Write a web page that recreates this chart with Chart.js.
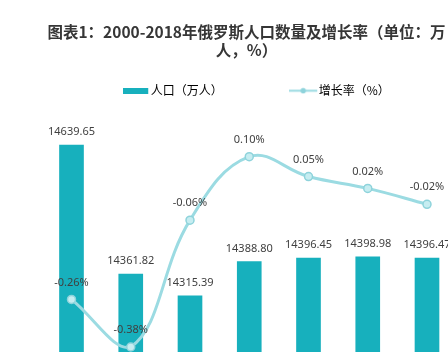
<!DOCTYPE html>
<html><head><meta charset="utf-8">
<script src="https://cdn.jsdelivr.net/npm/chart.js@4"></script>
<style>html,body{margin:0;padding:0;background:#fff;overflow:hidden}canvas{display:block}</style>
</head><body>
<canvas id="c" width="448" height="352"></canvas>
<script>
// ---- data ----
const categories = ['2000', '2005', '2009', '2012', '2013', '2014', '2015'];
const seriesNames = ['人口（万人）', '增长率（%）'];
const population = [14639.65, 14361.82, 14315.39, 14388.80, 14396.45, 14398.98, 14396.47];
const growthRate = [-0.26, -0.38, -0.06, 0.10, 0.05, 0.02, -0.02];
const titleLines = ['图表1：2000-2018年俄罗斯人口数量及增长率（单位：万', '人，%）'];

// ---- styles ----
const BAR_COLOR = '#17B0BD';
const LINE_COLOR = '#9BDBE2';
const LABEL_COLOR = '#404040';

function swatch(w, h, draw) {
  const c = document.createElement('canvas');
  c.width = w; c.height = h;
  draw(c.getContext('2d'), w, h);
  return c;
}
const barSwatch = swatch(39, 6, (g, w, h) => { g.fillStyle = BAR_COLOR; g.fillRect(0, 0, 25, h); });
const lineSwatch = swatch(43, 7, (g, w, h) => {
  g.strokeStyle = LINE_COLOR; g.lineWidth = 2;
  g.beginPath(); g.moveTo(0, h / 2); g.lineTo(28, h / 2); g.stroke();
  g.fillStyle = '#8ed3db';
  g.beginPath(); g.arc(14, h / 2, 2.7, 0, Math.PI * 2); g.fill();
});
const blankSwatch = swatch(1, 1, () => {});

const valueLabels = {
  id: 'valueLabels',
  afterDatasetsDraw(chart) {
    const ctx = chart.ctx;
    ctx.save();
    ctx.font = '11px "Noto Sans", sans-serif';
    ctx.fillStyle = LABEL_COLOR;
    ctx.textAlign = 'center';
    ctx.textBaseline = 'middle';
    chart.getDatasetMeta(0).data.forEach((el, i) => ctx.fillText(population[i].toFixed(2), el.x, el.y - 13));
    chart.getDatasetMeta(1).data.forEach((el, i) => ctx.fillText(growthRate[i].toFixed(2) + '%', el.x, el.y - 17));
    ctx.restore();
  }
};

const spacer = () => ({ text: '', pointStyle: blankSwatch, fillStyle: 'rgba(0,0,0,0)', strokeStyle: 'rgba(0,0,0,0)', lineWidth: 0, hidden: false });

// hidden axes that only reserve side space
const sideAxis = (pos, w, min, max) => ({
  display: true, position: pos, min, max,
  grid: { display: false }, border: { display: false }, ticks: { display: false },
  afterFit: (s) => { s.width = w; }
});

new Chart(document.getElementById('c'), {
  data: {
    labels: categories,
    datasets: [
      { type: 'bar', label: seriesNames[0], data: population, backgroundColor: BAR_COLOR,
        barThickness: 24, yAxisID: 'y', order: 2, clip: false },
      { type: 'line', label: seriesNames[1], data: growthRate, yAxisID: 'y1', order: 1,
        borderColor: LINE_COLOR, borderWidth: 3, tension: 0.4, fill: false,
        pointRadius: 4, pointBackgroundColor: '#c6edf1', pointBorderColor: '#8ed3db', pointBorderWidth: 1.5,
        clip: false }
    ]
  },
  options: {
    responsive: false,
    animation: false,
    events: [],
    layout: { padding: { left: 45, right: 0, top: 0, bottom: 0 }, autoPadding: false },
    scales: {
      x: { display: false, offset: false },
      y: sideAxis('left', 26.5, 14194.5, 14722),
      y1: sideAxis('right', 21, -0.3926, 0.2261)
    },
    plugins: {
      title: {
        display: true, text: titleLines, color: '#363636',
        font: { family: '"Noto Sans CJK SC", sans-serif', size: 15.5, weight: 'bold', lineHeight: 1.1613 },
        padding: { top: 23, bottom: 3.7 }
      },
      legend: {
        display: true, fullSize: false,
        labels: {
          usePointStyle: true, pointStyleWidth: 4, padding: 22, color: '#595959',
          font: { family: '"Noto Sans CJK SC", sans-serif', size: 12 },
          generateLabels: () => [
            spacer(),
            { text: seriesNames[0], pointStyle: barSwatch, fillStyle: BAR_COLOR, strokeStyle: BAR_COLOR, lineWidth: 0, hidden: false, datasetIndex: 0 },
            spacer(), spacer(),
            { text: seriesNames[1], pointStyle: lineSwatch, fillStyle: LINE_COLOR, strokeStyle: LINE_COLOR, lineWidth: 0, hidden: false, datasetIndex: 1 }
          ]
        }
      },
      tooltip: { enabled: false }
    }
  },
  plugins: [valueLabels]
});
</script>
</body></html>
